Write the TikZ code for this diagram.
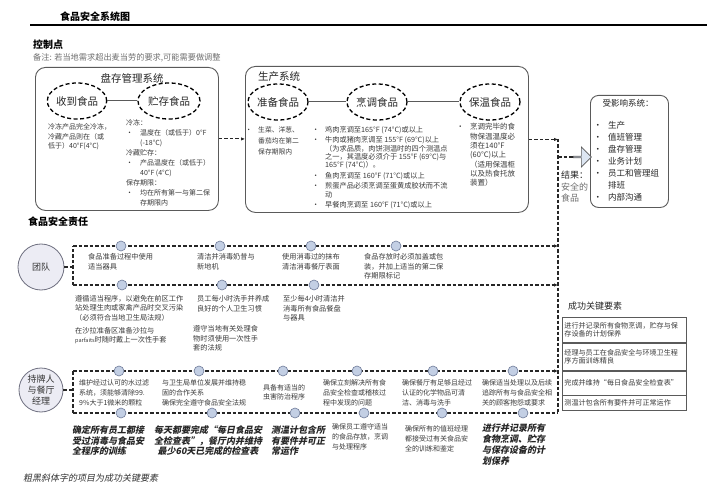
\documentclass[tikz,border=0pt]{standalone}
\usepackage{fontspec}
\setmainfont{Noto Sans CJK SC}
\newfontfamily\bifont{Noto Sans CJK SC}[FakeSlant=0.2]
\usetikzlibrary{shapes.geometric,shapes.arrows,arrows.meta}
\definecolor{txtc}{HTML}{3A3A3A}
\definecolor{lgray}{HTML}{707070}
\definecolor{boxc}{HTML}{5A5A5A}
\definecolor{bigfill}{HTML}{ECECF4}
\definecolor{bigdraw}{HTML}{6F7080}
\definecolor{dotfill}{HTML}{C3CFE4}
\definecolor{dotdraw}{HTML}{6F7C99}
\definecolor{arrfill}{HTML}{DDE6F2}
\newcommand{\myfs}[2]{\fontsize{#1}{#2}\selectfont}
\newcommand{\bul}{\llap{•\hspace{6pt}}}
\begin{document}
\begin{tikzpicture}[x=1pt,y=-1pt,
  tx/.style={inner sep=0pt, anchor=north west, align=left, text=txtc, font=\myfs{7.2}{9.4}},
  ell/.style={ellipse, draw=black, line width=1.3pt, dash pattern=on 4pt off 2.5pt, minimum width=60pt, minimum height=36pt, inner sep=0pt, font=\myfs{10.5}{12}, text=black!85},
  sysbox/.style={draw=boxc, line width=0.9pt, rounded corners=10pt, anchor=north west, inner sep=0pt},
  dl/.style={draw=black!85, line width=1.1pt, dash pattern=on 3.5pt off 2pt},
  tip/.style={-{Latex[length=4pt,width=3.5pt]}},
  dot/.style={circle, draw=dotdraw, fill=dotfill, line width=0.6pt, minimum size=10pt, inner sep=0pt},
  role/.style={circle, draw=bigdraw, fill=bigfill, line width=0.8pt, minimum size=46pt, inner sep=0pt, align=center, font=\myfs{9}{11}, text=black!80},
  bi/.style={inner sep=0pt, anchor=north west, align=left, text=black!85, font=\bifont\bfseries\myfs{9}{10.7}},
  krow/.style={draw=boxc, line width=0.8pt, anchor=north west, text width=120pt, inner sep=2pt, align=left, font=\myfs{7.1}{8.6}, text=txtc},
  link/.style={draw=boxc, line width=1pt}
]
\fill[white] (0,0) rectangle (707,500);
\useasboundingbox (0,0) rectangle (707,500);

% ---- title
\node[anchor=west, inner sep=0pt, font=\bfseries\myfs{10}{12}] (title) at (60,17) {食品安全系统图};
\coordinate (hl1) at (30,25);
\coordinate (hl2) at (707,25);
\draw[line width=1.3pt] (hl1) -- (hl2);
\node[anchor=west, inner sep=0pt, font=\bfseries\myfs{10}{12}] (ctrl) at (33,45) {控制点};
\node[anchor=west, inner sep=0pt, font=\myfs{8.2}{10}, text=lgray] (note) at (33,58) {备注: 若当地需求超出麦当劳的要求,可能需要做调整};

% ---- inventory system
\node[sysbox, minimum width=183pt, minimum height=143pt] (inv) at (35,67) {};
\node[font=\myfs{10.5}{12}, inner sep=0pt, text=black!85] (invt) at (132,78) {盘存管理系统};
\node[ell, minimum width=58pt] (recv) at (77,101) {收到食品};
\node[ell, minimum width=62pt] (store) at (169,101) {贮存食品};
\draw[link] (recv) -- (store);
\node[tx, font=\myfs{7}{9.6}] (recvtx) at (48,123.5) {冷冻产品完全冷冻，\\冷藏产品则在（或\\低于）40°F(4°C)};
\node[tx, font=\myfs{7}{10}] (storetx) at (126,119.5) {冷冻：\\\makebox[14pt][l]{•}温度在（或低于）0°F\\\hspace*{14pt}(-18°C)\\冷藏贮存：\\\makebox[14pt][l]{•}产品温度在（或低于）\\\hspace*{14pt}40°F (4°C)\\保存期限：\\\makebox[14pt][l]{•}均在所有第一与第二保\\\hspace*{14pt}存期限内};

% ---- production system
\node[sysbox, minimum width=283pt, minimum height=146pt] (prod) at (245,66) {};
\node[anchor=west, font=\myfs{10.5}{12}, inner sep=0pt, text=black!85] (prodt) at (258,77) {生产系统};
\node[ell] (prep) at (278,102) {准备食品};
\node[ell] (cook) at (377,102) {烹调食品};
\node[ell] (hold) at (490,102) {保温食品};
\draw[link] (prep) -- (cook);
\draw[link] (cook) -- (hold);
\node[tx, font=\myfs{6.8}{10.8}] (preptx) at (258,126.6) {\bul 生菜、洋葱、\\番茄均在第二\\保存期限内};
\node[tx, font=\myfs{7.2}{8.2}] (cooktx) at (312,126.4) {\makebox[13pt][l]{•}鸡肉烹调至165°F (74°C)或以上\\[2pt]
\makebox[13pt][l]{•}牛肉或猪肉烹调至 155°F (69°C)以上\\
\hspace*{13pt}（为求品质，肉饼测温时的四个测温点\\
\hspace*{13pt}之一，其温度必须介于 155°F (69°C)与\\
\hspace*{13pt}165°F (74°C)）。\\[2.5pt]
\makebox[13pt][l]{•}鱼肉烹调至 160°F (71°C)或以上\\[2.5pt]
\makebox[13pt][l]{•}煎蛋产品必须烹调至蛋黄成胶状而不流\\
\hspace*{13pt}动\\[2.5pt]
\makebox[13pt][l]{•}早餐肉烹调至 160°F (71°C)或以上};
\node[tx, font=\myfs{7.5}{9.3}] (holdtx) at (470,123.3) {\bul 烹调完毕的食\\物保温温度必\\须在140°F\\(60°C)以上\\（适用保温柜\\以及热食托放\\装置）};

% ---- affected systems
\node[sysbox, rounded corners=8pt, minimum width=78pt, minimum height=112pt] (aff) at (590,95) {};
\node[font=\myfs{8.5}{10}, inner sep=0pt, text=black!85] (afft) at (628,103) {受影响系统：};
\node[tx, font=\myfs{8.5}{12}, text=black!85] (afftx) at (608,120.7) {\bul 生产\\\bul 值班管理\\\bul 盘存管理\\\bul 业务计划\\\bul 员工和管理组\\排班\\\bul 内部沟通};

% ---- connectors of control points
\coordinate (vtop) at (558,139);
\coordinate (vbot) at (558,413);
\draw[dl, tip] (inv.east) -- (inv.east -| prod.west);
\draw[dl, tip] (prod.east) -- (prod.east -| vtop);
\draw[dl] (vtop) -- (vbot);
\node[single arrow, draw=boxc, fill=arrfill, line width=0.7pt, minimum height=18pt, minimum width=20pt, single arrow head extend=4pt, inner sep=0pt, anchor=west] (res) at (573,157) {};
\draw[dl] (res.west -| vtop) -- (res.west);
\node[tx, font=\myfs{9}{11.5}, text=black!85] (resl) at (561,170.5) {结果：};
\node[tx, font=\myfs{9}{11.5}, text=lgray] (rest) at (561,182.5) {安全的\\食品};

% ---- responsibilities
\node[anchor=west, inner sep=0pt, font=\bfseries\myfs{10}{12}] (resp) at (28,222) {食品安全责任};

% team band
\coordinate (ttl) at (73,246);
\coordinate (tbl) at (73,285);
\coordinate (ttr) at (558,246);
\coordinate (tbr) at (558,285);
\draw[dl] (tbl) -- (ttl);
\draw[dl, tip] (ttl) -- (ttr);
\draw[dl, tip] (tbl) -- (tbr);
\node[role] (team) at (41,267) {团队};
\draw[dl] (team) -- (team -| ttl);
\node[dot] (td1) at (121,246) {};
\node[dot] (td2) at (220,246) {};
\node[dot] (td3) at (311,246) {};
\node[dot] (td4) at (396,246) {};
\node[dot] (bd1) at (122,285) {};
\node[dot] (bd2) at (222,285) {};
\node[dot] (bd3) at (314,285) {};
\node[tx] (tt1) at (88,253.4) {食品准备过程中使用\\适当器具};
\node[tx] (tt2) at (197,253.4) {清洁并消毒奶昔与\\新地机};
\node[tx] (tt3) at (282,253.4) {使用消毒过的抹布\\清洁消毒餐厅表面};
\node[tx] (tt4) at (364,253.4) {食品存放时必须加盖或包\\装，并加上适当的第二保\\存期限标记};
\node[tx, font=\myfs{7.2}{9.2}] (tb1) at (75,295.4) {遵循适当程序，以避免在前区工作\\站处理生肉或家禽产品时交叉污染\\（必须符合当地卫生局法规）};
\node[tx, font=\myfs{7.2}{9.2}] (tb2) at (75,327.4) {在沙拉准备区准备沙拉与\\{\myfs{5.5}{9.2}parfaits}时随时戴上一次性手套};
\node[tx] (tb3) at (197,295.4) {员工每小时洗手并养成\\良好的个人卫生习惯};
\node[tx] (tb4) at (193,325.4) {遵守当地有关处理食\\物时须使用一次性手\\套的法规};
\node[tx] (tb5) at (283,295.4) {至少每4小时清洁并\\消毒所有食品餐盘\\与器具};

% manager band
\coordinate (mtl) at (73,371);
\coordinate (mbl) at (73,413);
\coordinate (mtr) at (558,371);
\coordinate (mbr) at (558,413);
\draw[dl] (mbl) -- (mtl);
\draw[dl, tip] (mtl) -- (mtr);
\draw[dl] (mbl) -- (mbr);
\node[role, minimum size=44pt] (mgr) at (41,390) {持牌人\\与餐厅\\经理};
\draw[dl] (mgr) -- (mgr -| mtl);
\node[dot] (mt1) at (119,371) {};
\node[dot] (mt2) at (199,371) {};
\node[dot] (mt3) at (283,371) {};
\node[dot] (mt4) at (357,371) {};
\node[dot] (mt5) at (433,371) {};
\node[dot] (mt6) at (513,371) {};
\node[dot] (mb1) at (121,413) {};
\node[dot] (mb2) at (212,413) {};
\node[dot] (mb3) at (295,413) {};
\node[dot] (mb4) at (364,413) {};
\node[dot] (mb5) at (442,413) {};
\node[dot] (mb6) at (523,413) {};
\node[tx, font=\myfs{7}{10}] (m1) at (79,379.5) {维护经过认可的水过滤\\系统，须能够清除99.\\9\%大于1微米的颗粒};
\node[tx, font=\myfs{7}{10}] (m2) at (162,379.5) {与卫生局单位发展并维持稳\\固的合作关系\\确保完全遵守食品安全法规};
\node[tx, font=\myfs{7}{9}] (m3) at (263,384.5) {具备有适当的\\虫害防治程序};
\node[tx, font=\myfs{7}{10}] (m4) at (323,379.5) {确保立刻解决所有食\\品安全检查或稽核过\\程中发现的问题};
\node[tx, font=\myfs{7}{10}] (m5) at (402,379.5) {确保餐厅有足够且经过\\认证的化学物品可清\\洁、消毒与洗手};
\node[tx, font=\myfs{7}{10}] (m6) at (482,379.5) {确保适当处理以及后续\\追踪所有与食品安全相\\关的顾客抱怨或要求};

\node[bi] (b1) at (72,425.5) {确定所有员工都接\\受过消毒与食品安\\全程序的训练};
\node[bi, anchor=north, align=center] (b2) at (208,425.5) {每天都要完成“每日食品安\\全检查表”，餐厅内并维持\\最少60天已完成的检查表};
\node[bi] (b3) at (271,425.5) {测温计包含所\\有要件并可正\\常运作};
\node[tx, font=\myfs{7}{10}] (b4) at (332,423.5) {确保员工遵守适当\\的食品存放，烹调\\与处理程序};
\node[tx, font=\myfs{7}{10}] (b5) at (405,425.5) {确保所有的值班经理\\都接受过有关食品安\\全的训练和鉴定};
\node[bi, font=\bifont\bfseries\myfs{9}{11}] (b6) at (482,423.5) {进行并记录所有\\食物烹调、贮存\\与保存设备的计\\划保养};

\node[anchor=west, inner sep=0pt, font=\bifont\myfs{9}{11}, text=black!80] (foot) at (23,478) {粗黑斜体字的项目为成功关键要素};

% ---- key success factors
\node[anchor=west, inner sep=0pt, font=\myfs{9}{11}, text=black!85] (ksf) at (568,306) {成功关键要素};
\node[krow, minimum height=25pt] (k1) at (562,317) {进行并记录所有食物烹调，贮存与保\\存设备的计划保养};
\node[krow, minimum height=27pt] (k2) at (k1.south west) {经理与员工在食品安全与环境卫生程\\序方面训练精良};
\node[krow, minimum height=24pt] (k3) at (k2.south west) {完成并维持“每日食品安全检查表”};
\node[krow, minimum height=15pt] (k4) at (k3.south west) {测温计包含所有要件并可正常运作};
\end{tikzpicture}
\end{document}
